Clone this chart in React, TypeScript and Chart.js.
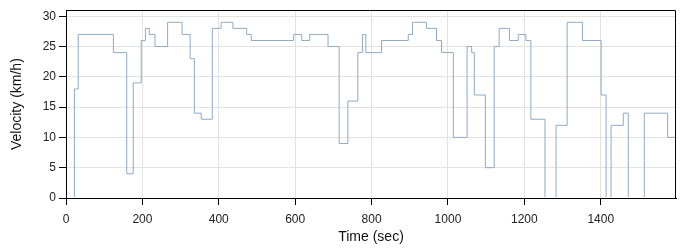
import React, { useEffect, useRef } from "react";
import { Chart, registerables } from "chart.js";

Chart.register(...registerables);

// Step start times (sec) and velocity held from that time (km/h)
const times = [
  0, 22, 32, 124, 159, 176, 197, 208, 218, 233, 266, 304, 325, 336, 354, 383,
  406, 437, 473, 485, 596, 617, 638, 686, 715, 738, 764, 776, 785, 826, 896,
  907, 944, 970, 983, 1014, 1050, 1062, 1069, 1098, 1121, 1134, 1161, 1184,
  1204, 1217, 1254, 1283, 1312, 1352, 1401, 1414, 1427, 1459, 1472, 1514,
  1575, 1597,
];
const velocities = [
  0, 18, 27, 24, 4, 19, 26, 28, 27, 25, 29, 27, 23, 14, 13, 28,
  29, 28, 27, 26, 27, 26, 27, 25, 9, 16, 24, 27, 24, 26, 27,
  29, 28, 26, 24, 10, 25, 24, 17, 5, 25, 28, 26, 27,
  26, 13, 0, 12, 29, 26, 17, 0, 12, 14, 0, 14,
  10, 10,
];
const xTicks = [0, 200, 400, 600, 800, 1000, 1200, 1400];
const yTicks = [0, 5, 10, 15, 20, 25, 30];

const framePlugin = {
  id: "frame",
  afterDraw(chart: any) {
    const { ctx, chartArea } = chart;
    ctx.save();
    ctx.strokeStyle = "#000";
    ctx.lineWidth = 1;
    const l = Math.round(chartArea.left);
    const t = Math.round(chartArea.top) + 0.5;
    const r = Math.round(chartArea.right) - 0.5;
    const b = Math.round(chartArea.bottom);
    ctx.beginPath();
    ctx.moveTo(l, t);
    ctx.lineTo(r, t);
    ctx.lineTo(r, b);
    ctx.stroke();
    ctx.restore();
  },
};

export default function App() {
  const ref = useRef<HTMLCanvasElement>(null);
  useEffect(() => {
    document.body.style.margin = "0";
    const data = times.map((t, i) => ({ x: t, y: velocities[i] }));
    const tickFont = { family: "'Liberation Sans', Arial, sans-serif", size: 12 };
    const titleFont = { family: "'Liberation Sans', Arial, sans-serif", size: 14 };
    const chart = new Chart(ref.current as HTMLCanvasElement, {
      type: "line",
      data: {
        datasets: [
          {
            data,
            stepped: "before",
            borderColor: "#8faac4",
            borderWidth: 1,
            pointRadius: 0,
            fill: false,
            clip: { left: 0, top: 0, right: 0, bottom: -1 },
          },
        ],
      },
      options: {
        animation: false,
        responsive: false,
        events: [],
        layout: { padding: { top: 10, right: 24, left: 0, bottom: 0 } },
        plugins: { legend: { display: false }, tooltip: { enabled: false } },
        scales: {
          x: {
            type: "linear",
            min: 0,
            max: 1597,
            afterBuildTicks: (s: any) => {
              s.ticks = xTicks.map((v) => ({ value: v }));
            },
            afterFit: (s: any) => {
              s.height = 52;
            },
            grid: { color: "#e2e2e2", tickColor: "#000", tickLength: 7, lineWidth: 1 },
            border: { color: "#000", width: 1, z: 1 },
            ticks: {
              color: "#222",
              font: tickFont,
              padding: 7,
              maxRotation: 0,
              callback: (v: any) => String(v),
            },
            title: {
              display: true,
              text: "Time (sec)",
              color: "#111",
              font: titleFont,
              padding: { top: 0, bottom: 4 },
            },
          },
          y: {
            type: "linear",
            min: 0,
            max: 31,
            afterBuildTicks: (s: any) => {
              s.ticks = yTicks.map((v) => ({ value: v }));
            },
            afterFit: (s: any) => {
              s.width = 66;
            },
            grid: { color: "#e2e2e2", tickColor: "#000", tickLength: 7, lineWidth: 1 },
            border: { color: "#000", width: 1, z: 1 },
            ticks: { color: "#222", font: tickFont, padding: 3, callback: (v: any) => String(v) },
            title: {
              display: true,
              text: "Velocity (km/h)",
              color: "#111",
              font: titleFont,
              padding: { top: 9, bottom: 0 },
            },
          },
        },
      },
      plugins: [framePlugin],
    });
    return () => chart.destroy();
  }, []);
  return (
    <div style={{ position: "absolute", left: 0, top: 0, width: 700, height: 250 }}>
      <canvas ref={ref} width={700} height={250} />
    </div>
  );
}
